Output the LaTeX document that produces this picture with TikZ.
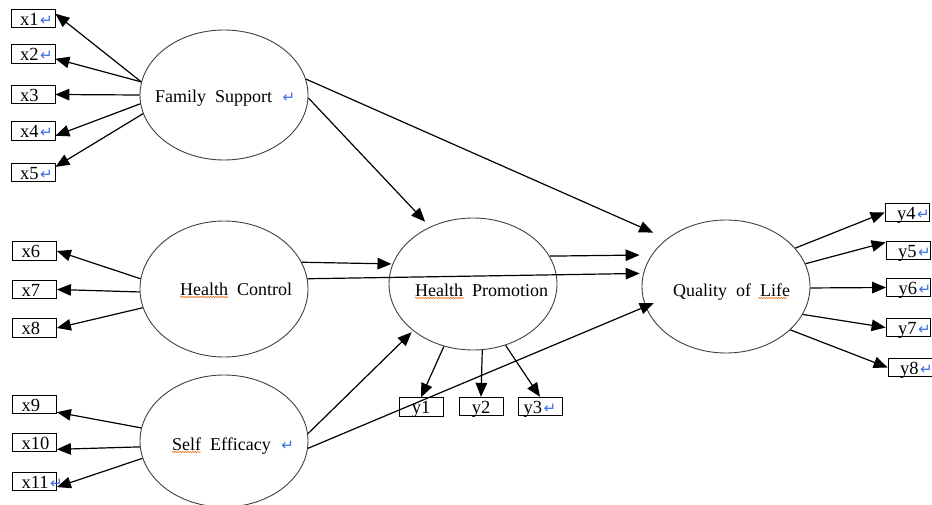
\documentclass[tikz,border=0pt]{standalone}
\usepackage{fontspec}
\setmainfont{Liberation Serif}[WordSpace=2]
\newfontfamily\retfont{DejaVu Sans}
\usetikzlibrary{shapes.geometric,arrows.meta,decorations.pathmorphing}
\definecolor{retblue}{RGB}{60,110,230}
\definecolor{squigc}{RGB}{230,120,40}
\newcommand{\retmark}{\kern1.5pt{\retfont\fontsize{15}{15}\selectfont\color{retblue}↵}}
\begin{document}
\begin{tikzpicture}[x=1pt,y=-1pt,
  lat/.style={draw=black!75, line width=0.9pt, ellipse, minimum width=168pt, inner sep=0pt},
  lbl/.style={anchor=base west, inner sep=0pt, font=\fontsize{18}{20}\selectfont},
  ind/.style={draw, line width=0.8pt, minimum width=44pt, inner ysep=1.5pt, text height=14.5pt, text depth=1pt, font=\fontsize{18.5}{20}\selectfont},
  xind/.style={ind, inner xsep=9pt},
  yind/.style={ind, inner xsep=12pt},
  mind/.style={ind, inner xsep=0pt},
  arr/.style={line width=1.2pt, -{Triangle[length=14pt,width=11.5pt]}},
  squiggle/.style={draw=squigc, line width=0.6pt, decorate, decoration={snake, amplitude=0.7pt, segment length=2.5pt}}
]
\useasboundingbox (0,0) rectangle (932,505);

% latent variables
\node[lat, minimum height=130pt] (fs) at (224,95) {};
\node[lat, minimum height=136pt] (hc) at (224,289) {};
\node[lat, minimum height=132pt] (se) at (224,441) {};
\node[lat, minimum height=132pt] (hp) at (473,284) {};
\node[lat, minimum height=133pt] (qol) at (726,286.5) {};

% labels
\node[lbl] (fsl) at (155,102.5) {Family Support \retmark};
\node[lbl] (hcl) at (180,295) {Health Control};
\node[lbl] (hpl) at (415,296) {Health Promotion};
\node[lbl] (qoll) at (673,296) {Quality of Life};
\node[lbl] (sel) at (172,450) {Self Efficacy \retmark};

% spelling underlines
\draw[squiggle] ([yshift=-2pt]hcl.base west) -- ++(48,0);
\draw[squiggle] ([yshift=-2pt]hpl.base west) -- ++(49,0);
\draw[squiggle] ([xshift=85pt,yshift=-2pt]qoll.base west) -- ++(29,0);
\draw[squiggle] ([yshift=-2pt]sel.base west) -- ++(29,0);

% indicator boxes
\node[xind] (x1) at (33,18.5) {\makebox[26pt][l]{x1\retmark}};
\node[xind] (x2) at (33,54) {\makebox[26pt][l]{x2\retmark}};
\node[xind] (x3) at (33,94.5) {\makebox[26pt][l]{x3}};
\node[xind] (x4) at (33,131) {\makebox[26pt][l]{x4\retmark}};
\node[xind] (x5) at (33,172.5) {\makebox[26pt][l]{x5\retmark}};
\node[xind] (x6) at (34.5,251) {\makebox[26pt][l]{x6}};
\node[xind] (x7) at (34.5,289.5) {\makebox[26pt][l]{x7}};
\node[xind] (x8) at (34.5,328) {\makebox[26pt][l]{x8}};
\node[xind] (x9) at (34.5,404.5) {\makebox[26pt][l]{x9}};
\node[xind] (x10) at (34.5,442.5) {\makebox[26pt][l]{x10}};
\node[xind] (x11) at (34.5,481.5) {\makebox[26pt][l]{x11\retmark}};

\node[mind] (y1) at (421,407) {y1};
\node[mind] (y2) at (481,406.5) {y2};
\node[mind] (y3) at (540,406.5) {y3\retmark};

\node[yind] (y4) at (907,212.5) {\makebox[20pt][l]{y4\retmark}};
\node[yind] (y5) at (908,250.5) {\makebox[20pt][l]{y5\retmark}};
\node[yind] (y6) at (908.5,287.5) {\makebox[20pt][l]{y6\retmark}};
\node[yind] (y7) at (908,327.5) {\makebox[20pt][l]{y7\retmark}};
\node[yind] (y8) at (910,367.5) {\makebox[20pt][l]{y8\retmark}};

% measurement arrows (exogenous)
\draw[arr] (fs.171.7) -- (x1.12);
\draw[arr] (fs.171.7) -- (x2.348);
\draw[arr] (fs.180) -- (x3.east);
\draw[arr] (fs.186.2) -- (x4.348);
\draw[arr] (fs.193.3) -- (x5.14);
\draw[arr] (hc.173.2) -- (x6.east);
\draw[arr] (hc.182.7) -- (x7.east);
\draw[arr] (hc.193.9) -- (x8.east);
\draw[arr] (se.171.2) -- (x9.341);
\draw[arr] (se.184.8) -- (x10.343);
\draw[arr] (se.192.6) -- (x11.346);

% structural paths
\draw[arr, shorten >=15pt] (fs.11.1) -- (qol.141.2);
\draw[arr, shorten >=7pt] (fs.358) -- (hp.127.7);
\draw[arr, shorten >=1pt] (hc.19.3) -- (hp.166.8);
\draw[arr, shorten >=3.5pt] (hc.7.5) -- (qol.171.4);
\draw[arr, shorten >=2pt] (se.5.5) -- (hp.218.2);
\draw[arr, shorten >=-9pt] (se.355.9) -- (qol.194.2);
\draw[arr, shorten >=12pt] (hp.20.6) -- (qol.157.9);

% endogenous measurement
\draw[arr] (hp.245.6) -- (y1.north);
\draw[arr] (hp.278.2) -- (y2.north);
\draw[arr] (hp.298.5) -- (y3.north);
\draw[arr] (qol.29.2) -- (y4.west);
\draw[arr] (qol.16.3) -- (y5.160);
\draw[arr] (qol.359) -- (y6.west);
\draw[arr] (qol.340.7) -- (y7.west);
\draw[arr] (qol.326) -- (y8.west);
\end{tikzpicture}
\end{document}
